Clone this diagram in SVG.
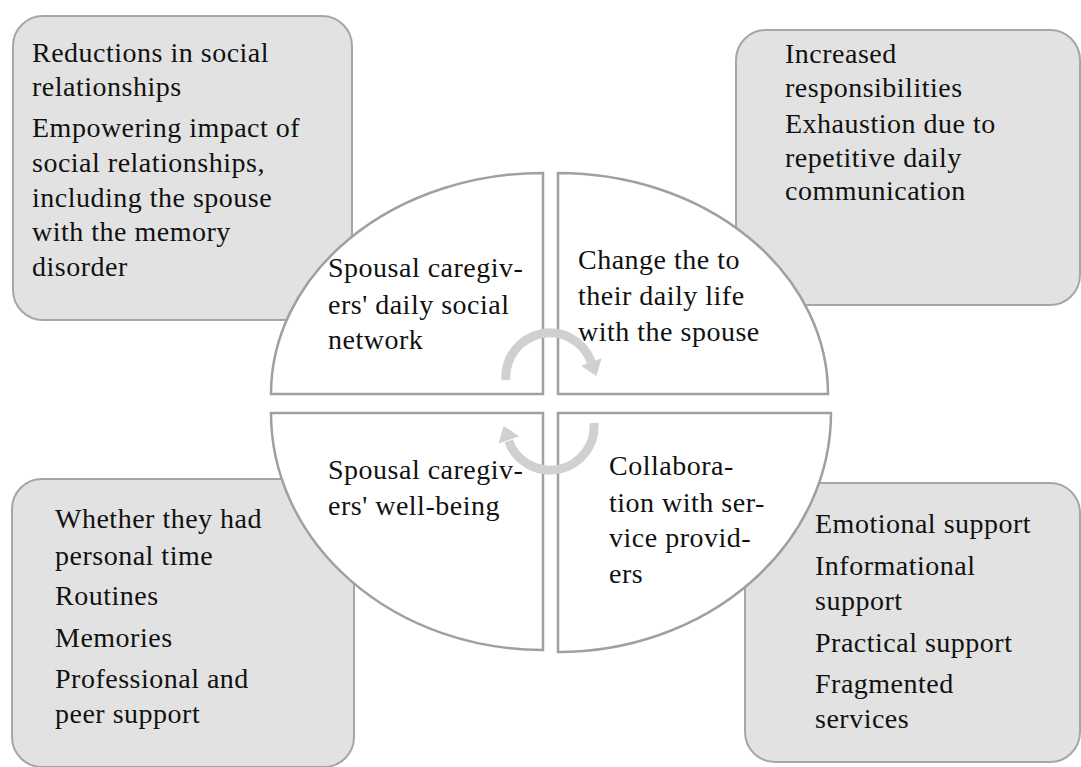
<svg xmlns="http://www.w3.org/2000/svg" width="1081" height="767" viewBox="0 0 1081 767">
<style>
.box{fill:#e2e2e2;stroke:#a6a6a6;stroke-width:2}
.quad{fill:#ffffff;stroke:#a0a0a0;stroke-width:2.5}
.t{font-family:"Liberation Serif","Times New Roman",serif;font-size:28px;letter-spacing:0.5px;fill:#111}
.arc{fill:none;stroke:#d0d0d0;stroke-width:9}
.head{fill:#d0d0d0}
</style>
<rect width="1081" height="767" fill="#ffffff"/>
<g id="box-top-left">
<rect class="box" x="13" y="16" width="339" height="304" rx="30"/>
<text class="t" x="32" y="62">Reductions in social</text>
<text class="t" x="32" y="96">relationships</text>
<text class="t" x="32" y="137">Empowering impact of</text>
<text class="t" x="32" y="172">social relationships,</text>
<text class="t" x="32" y="207">including the spouse</text>
<text class="t" x="32" y="241">with the memory</text>
<text class="t" x="32" y="276">disorder</text>
</g>
<g id="box-top-right">
<rect class="box" x="736" y="30" width="344" height="275" rx="30"/>
<text class="t" x="785" y="63">Increased</text>
<text class="t" x="785" y="97">responsibilities</text>
<text class="t" x="785" y="133">Exhaustion due to</text>
<text class="t" x="785" y="167">repetitive daily</text>
<text class="t" x="785" y="200">communication</text>
</g>
<g id="box-bottom-left">
<rect class="box" x="12" y="479" width="342" height="288" rx="30"/>
<text class="t" x="55" y="528">Whether they had</text>
<text class="t" x="55" y="565">personal time</text>
<text class="t" x="55" y="605">Routines</text>
<text class="t" x="55" y="647">Memories</text>
<text class="t" x="55" y="688">Professional and</text>
<text class="t" x="55" y="723">peer support</text>
</g>
<g id="box-bottom-right">
<rect class="box" x="745" y="483" width="335" height="279" rx="30"/>
<text class="t" x="815" y="533">Emotional support</text>
<text class="t" x="815" y="575">Informational</text>
<text class="t" x="815" y="610">support</text>
<text class="t" x="815" y="652">Practical support</text>
<text class="t" x="815" y="693">Fragmented</text>
<text class="t" x="815" y="728">services</text>
</g>
<g id="quad-top-left">
<path class="quad" d="M543 394 L271 394 A272 221 0 0 1 543 173 Z"/>
<text class="t" x="328" y="277">Spousal caregiv-</text>
<text class="t" x="328" y="314">ers' daily social</text>
<text class="t" x="328" y="349">network</text>
</g>
<g id="quad-top-right">
<path class="quad" d="M558 394 L558 173 A270 221 0 0 1 828 394 Z"/>
<text class="t" x="578" y="269">Change the to</text>
<text class="t" x="578" y="305">their daily life</text>
<text class="t" x="578" y="341">with the spouse</text>
</g>
<g id="quad-bottom-left">
<path class="quad" d="M543 413 L543 650 A272 237 0 0 1 271 413 Z"/>
<text class="t" x="328" y="479">Spousal caregiv-</text>
<text class="t" x="328" y="515">ers' well-being</text>
</g>
<g id="quad-bottom-right">
<path class="quad" d="M558 413 L831 413 A273 239 0 0 1 558 652 Z"/>
<text class="t" x="609" y="475">Collabora-</text>
<text class="t" x="609" y="512">tion with ser-</text>
<text class="t" x="609" y="547">vice provid-</text>
<text class="t" x="609" y="583">ers</text>
</g>
<g id="connectors">
<path class="arc" d="M506 380 A44 44 0 0 1 591.3 362"/>
<polygon class="head" points="601.6,358.2 581,365.8 596.4,376.1"/>
<path class="arc" d="M594 423 A44 44 0 0 1 508.7 441"/>
<polygon class="head" points="498.4,443.8 519,436.2 503.6,425.9"/>
</g>
</svg>
